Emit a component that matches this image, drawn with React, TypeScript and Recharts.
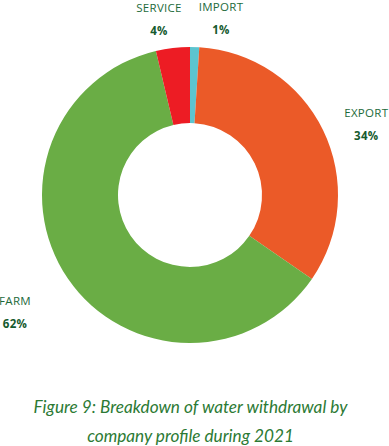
import React from "react";
import { PieChart, Pie, Cell } from "recharts";

const categories = ["IMPORT", "EXPORT", "FARM", "SERVICE"];
const shares = [1, 33.6, 61.7, 3.7];
const percentLabels = ["1%", "34%", "62%", "4%"];
const colors = ["#5cc4cf", "#eb5a28", "#6aad45", "#ed1c24"];
const captionLines = [
  "Figure 9: Breakdown of water withdrawal by",
  "company profile during 2021",
];

const data = categories.map((name, i) => ({ name, value: shares[i] }));

const RADIAN = Math.PI / 180;
const LABEL_FONT = "'Open Sans', sans-serif";

const renderLabel = (props: any) => {
  const { cx, cy, midAngle, outerRadius, index } = props;
  const c = Math.cos(-midAngle * RADIAN);
  const s = Math.sin(-midAngle * RADIAN);
  const rx = outerRadius + (c < 0 ? 64 : 48);
  const ry = outerRadius + 40;
  let dx = rx * c;
  const dy = ry * s + 10;
  if (Math.abs(dx) < 30) {
    dx = (dx >= 0 ? 1 : -1) * 31;
  }
  const x = cx + dx;
  const y = cy + dy;
  return (
    <g key={`lbl-${index}`}>
      <text
        x={x}
        y={y - 6}
        textAnchor="middle"
        fontFamily={LABEL_FONT}
        fontSize={11.5}
        letterSpacing={0.3}
        fill="#1d6b3b"
      >
        {categories[index]}
      </text>
      <text
        x={x}
        y={y + 17}
        textAnchor="middle"
        fontFamily={LABEL_FONT}
        fontSize={11.5}
        fontWeight={700}
        letterSpacing={0.3}
        fill="#155a2e"
      >
        {percentLabels[index]}
      </text>
    </g>
  );
};

export default function App() {
  return (
    <div style={{ position: "relative", width: 389, height: 446, background: "#fff" }}>
      <style>{`body{margin:0;}`}</style>
      <PieChart width={389} height={380} margin={{ top: 0, right: 0, bottom: 0, left: 0 }}>
        <Pie
          data={data}
          dataKey="value"
          nameKey="name"
          cx={190}
          cy={195}
          innerRadius={72}
          outerRadius={148}
          startAngle={90}
          endAngle={-270}
          stroke="none"
          label={renderLabel}
          labelLine={false}
          isAnimationActive={false}
        >
          {data.map((d, i) => (
            <Cell key={d.name} fill={colors[i]} />
          ))}
        </Pie>
      </PieChart>
      <div
        style={{
          position: "absolute",
          left: 0,
          top: 392,
          width: 381,
          textAlign: "center",
          fontFamily: "Lato, sans-serif",
          fontStyle: "italic",
          fontSize: 17.2,
          lineHeight: "29px",
          color: "#2c7a34",
        }}
      >
        {captionLines.map((l) => (
          <div key={l}>{l}</div>
        ))}
      </div>
    </div>
  );
}
